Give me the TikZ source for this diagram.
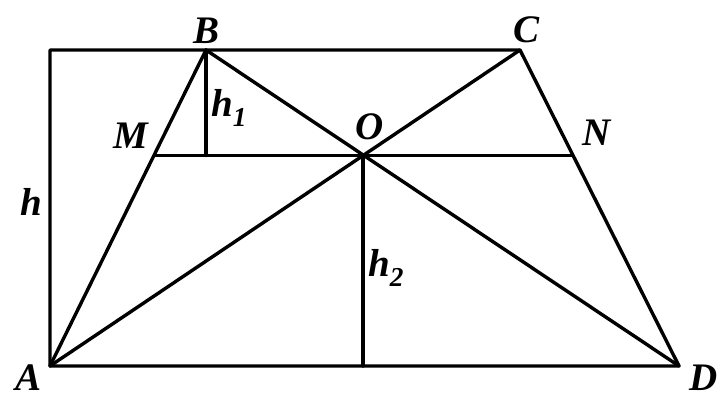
\documentclass[tikz,border=0pt]{standalone}
\usepackage{fontspec}
\setmainfont{Liberation Serif}
\begin{document}
\begin{tikzpicture}[x=1pt,y=-1pt,
  seg/.style={line width=3.4pt,line cap=round,line join=round},
  lbl/.style={font=\fontsize{39}{41}\selectfont\bfseries\itshape,inner sep=0pt}]
\useasboundingbox (0,0) rectangle (723,404);
\coordinate (A) at (50,366);
\coordinate (D) at (679,366);
\coordinate (B) at (206,50);
\coordinate (C) at (520,50);
\coordinate (E) at (50,50);
\coordinate (O) at (363,155.5);
\coordinate (M) at (154,155.5);
\coordinate (N) at (573,155.5);
\coordinate (H1) at (206,155.5);
\coordinate (H2) at (363,366);
\draw[seg] (A) -- (E) -- (C) -- (D) -- cycle;
\draw[seg] (A) -- (B) -- (D);
\draw[seg] (A) -- (C);
\draw[seg] (M) -- (N);
\draw[seg] (B) -- (H1);
\draw[seg] (O) -- (H2);
\node[lbl] (lB) at (207,31) {B};
\node[lbl] (lC) at (527,30) {C};
\node[lbl] (lM) at (131,136) {M};
\node[lbl] (lN) at (597,133) {N};
\node[lbl] (lO) at (370,127) {O};
\node[lbl] (lA) at (29,378) {A};
\node[lbl] (lD) at (704,378) {D};
\node[lbl] (lh) at (31,202) {h};
\node[lbl] (lh1) at (229,108) {h\textsubscript{1}};
\node[lbl] (lh2) at (386,268) {h\textsubscript{2}};
\end{tikzpicture}
\end{document}
